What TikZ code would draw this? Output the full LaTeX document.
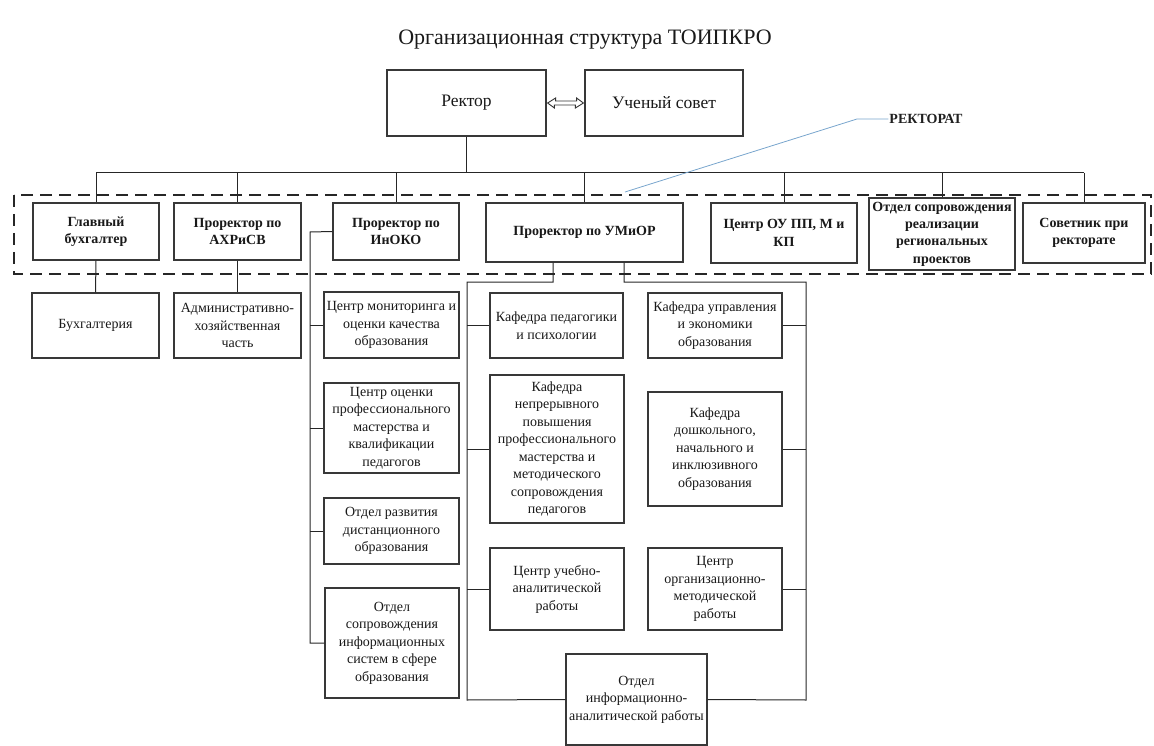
\documentclass[tikz,border=0pt]{standalone}
\usepackage{fontspec}
\setmainfont{Liberation Serif}
\usetikzlibrary{arrows.meta}
\newcommand\mkbox[7]{%
 \pgfmathsetmacro\bxcx{(#3+#5)/2}%
 \pgfmathsetmacro\bxcy{(#4+#6)/2}%
 \pgfmathsetmacro\bxw{#5-#3}%
 \pgfmathsetmacro\bxh{#6-#4}%
 \node[#2, minimum width=\bxw pt, minimum height=\bxh pt] (#1) at (\bxcx,\bxcy) {#7};}
\begin{document}
\begin{tikzpicture}[x=1pt,y=-1pt,
  bx/.style={draw=black!78, line width=1.2pt, fill=white, align=center, inner sep=1pt,
     font=\fontsize{14}{17.5}\selectfont, text=black!90},
  bxb/.style={bx, font=\bfseries\fontsize{14}{17.3}\selectfont},
  bxl/.style={bx, font=\fontsize{17.5}{20}\selectfont},
  conn/.style={draw=black!85, line width=1pt},
  lead/.style={draw={rgb,255:red,120;green,165;blue,205}, line width=0.8pt},
  frame/.style={draw=black!85, line width=2.2pt, dash pattern=on 12pt off 7pt}]
\useasboundingbox (0,0) rectangle (1154,746);
% title
\node[font=\fontsize{22}{26}\selectfont, text=black!90] (title) at (585,40) {Организационная структура ТОИПКРО};
% rectorate frame
\draw[frame] (14,195) rectangle (1151,274);
% top
\mkbox{r}{bxl}{387}{70}{546}{136}{Ректор}
\mkbox{us}{bxl}{585}{70}{743}{136}{Ученый совет}
% hollow double-headed arrow between r and us
\draw[draw=black!80, line width=0.9pt, fill=white, line join=miter]
  ([xshift=1pt]r.east) -- ++(8,-5) -- ++(0,3) -- ++(21,0) -- ++(0,-3)
  -- ([xshift=-1pt]us.west) -- ++(-8,5) -- ++(0,-3) -- ++(-21,0) -- ++(0,3) -- cycle;
% row
\mkbox{gb}{bxb}{33}{203}{159}{260}{Главный\\бухгалтер}
\mkbox{ax}{bxb}{174}{203}{301}{260}{Проректор по\\АХРиСВ}
\mkbox{ino}{bxb}{333}{203}{459}{260}{Проректор по\\ИнОКО}
\mkbox{um}{bxb}{486}{203}{683}{262}{Проректор по УМиОР}
\mkbox{cou}{bxb}{711}{203}{857}{263}{Центр ОУ ПП, М и\\КП}
\mkbox{osr}{bxb}{869}{198}{1015}{270}{Отдел сопровождения\\реализации\\региональных\\проектов}
\mkbox{sov}{bxb}{1023}{203}{1145}{263}{Советник при\\ректорате}
% bus
\coordinate (busY) at (0,173);
\draw[conn] (gb.north |- busY) -- (sov.north |- busY);
\draw[conn] (r.south) -- (r.south |- busY);
\foreach \n in {gb,ax,ino,um,cou,osr,sov} \draw[conn] (\n.north |- busY) -- (\n.north);
% label
\node[font=\bfseries\fontsize{14}{17}\selectfont, text=black!88, inner sep=1pt] (rt) at (926,119) {РЕКТОРАТ};
\coordinate (rtK) at (857,119);
\coordinate (rtE) at (625,192);
\draw[lead] (rt.west) -- (rtK) -- (rtE);
% lower left
\mkbox{buh}{bx}{32}{293}{159}{358}{Бухгалтерия}
\mkbox{axc}{bx}{174}{293}{301}{358}{Административно-\\хозяйственная\\часть}
\draw[conn] (gb.south) -- (buh.north);
\draw[conn] (ax.south) -- (axc.north);
% InOKO column
\mkbox{c1}{bx}{324}{292}{459}{358}{Центр мониторинга и\\оценки качества\\образования}
\mkbox{c2}{bx}{324}{383}{459}{473}{Центр оценки\\профессионального\\мастерства и\\квалификации\\педагогов}
\mkbox{c3}{bx}{324}{498}{459}{564}{Отдел развития\\дистанционного\\образования}
\mkbox{c4}{bx}{325}{588}{459}{698}{Отдел\\сопровождения\\информационных\\систем в сфере\\образования}
\coordinate (inoL) at (310,232);
\draw[conn] (ino.west) -- (inoL) |- (c4.west);
\foreach \n in {c1,c2,c3} \draw[conn] (\n.west) -- (\n.west -| inoL);
% UMiOR
\mkbox{k1}{bx}{490}{293}{623}{358}{Кафедра педагогики\\и психологии}
\mkbox{k2}{bx}{648}{293}{782}{358}{Кафедра управления\\и экономики\\образования}
\mkbox{k3}{bx}{490}{375}{624}{523}{Кафедра\\непрерывного\\повышения\\профессионального\\мастерства и\\методического\\сопровождения\\педагогов}
\mkbox{k4}{bx}{648}{392}{782}{506}{Кафедра\\дошкольного,\\начального и\\инклюзивного\\образования}
\mkbox{k5}{bx}{490}{548}{624}{630}{Центр учебно-\\аналитической\\работы}
\mkbox{k6}{bx}{648}{548}{782}{630}{Центр\\организационно-\\методической\\работы}
\mkbox{oia}{bx}{566}{654}{707}{745}{Отдел\\информационно-\\аналитической работы}
\coordinate (ulT) at (553,282);
\coordinate (ulB) at (467,700);
\coordinate (urT) at (624,282);
\coordinate (urB) at (806,700);
\draw[conn] (um.south -| ulT) -- (ulT) -| (ulB) -- (oia.west);
\draw[conn] (um.south -| urT) -- (urT) -| (urB) -- (oia.east);
\foreach \n in {k1,k3,k5} \draw[conn] (\n.west) -- (\n.west -| ulB);
\foreach \n in {k2,k4,k6} \draw[conn] (\n.east) -- (\n.east -| urB);
\end{tikzpicture}
\end{document}
